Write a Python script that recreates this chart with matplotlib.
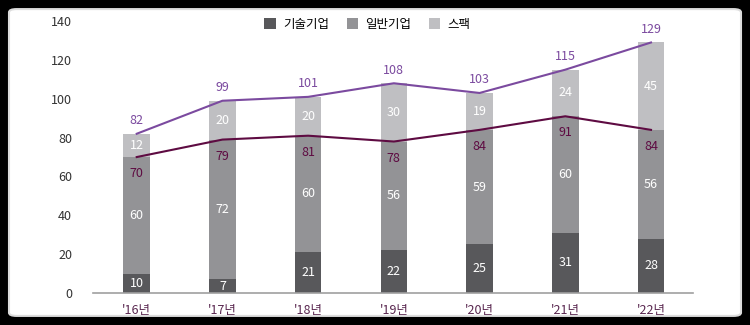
import numpy as np
import matplotlib
matplotlib.use('Agg')
import matplotlib.pyplot as plt
from matplotlib.patches import FancyBboxPatch

plt.rcParams['font.family'] = ['Noto Sans CJK KR', 'DejaVu Sans']

years = ["'16년", "'17년", "'18년", "'19년", "'20년", "'21년", "'22년"]
tech = [10, 7, 21, 22, 25, 31, 28]
general = [60, 72, 60, 56, 59, 60, 56]
spac = [12, 20, 20, 30, 19, 24, 45]
series_names = ['기술기업', '일반기업', '스팩']

C_TECH = '#58585b'
C_GEN = '#939396'
C_SPAC = '#bfbfc2'
C_TOTAL = '#7b4a9f'
C_SUB = '#5e0b42'

tech = np.array(tech)
general = np.array(general)
spac = np.array(spac)
sub = tech + general
total = sub + spac
x = np.arange(len(years))

fig = plt.figure(figsize=(7.5, 3.25), dpi=100)
fig.patch.set_facecolor('black')
panel = FancyBboxPatch((0.012, 0.028), 0.976, 0.944, boxstyle='round,pad=0,rounding_size=0.01',
                       transform=fig.transFigure, facecolor='white', edgecolor='#dddddd',
                       linewidth=1.5, zorder=-1)
fig.add_artist(panel)

ax = fig.add_axes([0.124, 0.0985, 0.8, 0.8365])
ax.set_zorder(2)
ax.set_facecolor('none')

w = 0.31
ax.bar(x, tech, w, color=C_TECH, label=series_names[0], zorder=2)
ax.bar(x, general, w, bottom=tech, color=C_GEN, label=series_names[1], zorder=2)
ax.bar(x, spac, w, bottom=sub, color=C_SPAC, label=series_names[2], zorder=2)

ax.plot(x, total, color=C_TOTAL, lw=1.5, zorder=3)
ax.plot(x, sub, color=C_SUB, lw=1.5, zorder=3)

fs = 9
for i in x:
    ax.text(i, tech[i] / 2, str(tech[i]), ha='center', va='center', color='white', fontsize=fs, zorder=4)
    ax.text(i, tech[i] + general[i] / 2, str(general[i]), ha='center', va='center', color='white', fontsize=fs, zorder=4)
    ax.text(i, sub[i] + spac[i] / 2, str(spac[i]), ha='center', va='center', color='white', fontsize=fs, zorder=4)
    ax.annotate(str(sub[i]), (i, sub[i]), xytext=(0, -12), textcoords='offset points',
                ha='center', va='center', color=C_SUB, fontsize=fs, zorder=4)
    ax.annotate(str(total[i]), (i, total[i]), xytext=(0, 9.5), textcoords='offset points',
                ha='center', va='center', color=C_TOTAL, fontsize=fs, zorder=4)

ax.set_xlim(-0.51, 6.49)
ax.set_ylim(0, 140)
ax.set_yticks(np.arange(0, 141, 20))
ax.set_xticks(x)
ax.set_xticklabels(years, color='#5a2850', fontsize=fs)
ax.tick_params(axis='y', length=0, labelsize=fs, labelcolor='#333333', pad=15)
ax.tick_params(axis='x', length=0, pad=8)
for s in ['top', 'right', 'left']:
    ax.spines[s].set_visible(False)
ax.spines['bottom'].set_color('#a0a0a0')
ax.spines['bottom'].set_linewidth(1.2)

leg = fig.legend(loc='center', bbox_to_anchor=(0.49, 0.925), ncol=3, frameon=False, fontsize=fs,
                 handlelength=0.9, handleheight=0.9, handletextpad=0.6, columnspacing=1.4)
leg.set_zorder(3)

plt.savefig('out.png', dpi=100, facecolor=fig.get_facecolor())
